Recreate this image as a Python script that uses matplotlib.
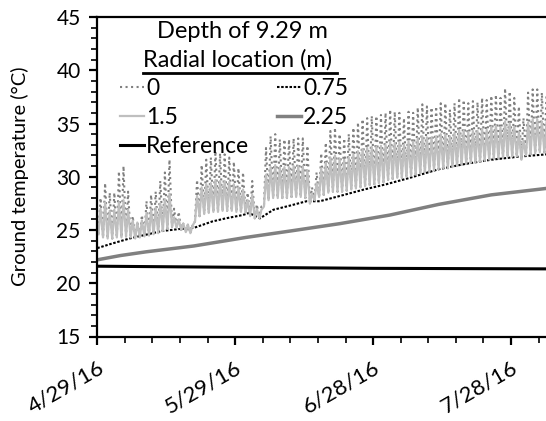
import datetime as dt

import matplotlib
matplotlib.use('Agg')
import matplotlib.dates as mdates
import matplotlib.pyplot as plt
from matplotlib.lines import Line2D
from matplotlib.ticker import MultipleLocator
import numpy as np

# Ground temperature at a depth of 9.29 m, 4/29/16 onwards
start = dt.datetime(2016, 4, 29)
n_days = 98

# Daily peaks of the 0 m series (dotted grey)
peak_0 = [28.0, 29.4, 28.5, 28.5, 30.5, 31.0, 28.6, 26.3, 25.8, 26.4,
          27.7, 28.3, 28.6, 29.6, 30.4, 31.6, 27.0, 26.7, 25.6, 25.5,
          25.4, 29.7, 31.1, 31.6, 31.8, 32.4, 32.2, 32.1, 31.8, 31.4,
          30.8, 30.4, 28.5, 29.6, 27.4, 27.2, 32.7, 33.8, 34.0, 33.5,
          33.5, 33.5, 33.6, 33.6, 33.6, 32.9, 29.0, 30.4, 32.2, 33.2,
          34.3, 34.6, 34.0, 33.6, 34.0, 34.6, 35.1, 35.4, 35.5, 35.7,
          35.7, 35.8, 36.0, 36.3, 36.1, 36.0, 35.5, 36.1, 36.0, 36.5,
          36.8, 36.6, 36.5, 36.6, 36.9, 36.9, 36.3, 36.9, 37.4, 37.2,
          36.9, 37.1, 37.0, 37.4, 37.2, 37.6, 37.7, 37.4, 38.3, 38.0,
          37.4, 36.6, 35.5, 37.9, 38.2, 38.2, 37.9, 37.6]

# Daily peaks of the 1.5 m series (light grey)
peak_15 = [27.0, 27.6, 26.8, 26.9, 27.6, 27.8, 26.9, 25.9, 25.7, 25.9,
           26.6, 26.9, 27.1, 27.5, 27.9, 28.4, 26.2, 26.0, 25.6, 25.5,
           25.4, 28.2, 29.0, 29.3, 29.4, 29.7, 29.6, 29.6, 29.5, 29.3,
           29.0, 28.8, 27.8, 28.3, 27.0, 26.9, 30.2, 30.9, 31.1, 30.9,
           30.9, 30.9, 31.0, 31.0, 31.0, 30.6, 28.4, 29.4, 30.8, 31.3,
           31.8, 32.0, 31.7, 31.6, 31.8, 32.1, 32.4, 32.6, 32.7, 32.8,
           32.8, 32.9, 33.0, 33.3, 33.2, 33.2, 33.0, 33.3, 33.3, 33.6,
           33.8, 33.7, 33.7, 33.8, 34.0, 34.0, 33.8, 34.1, 34.4, 34.3,
           34.2, 34.3, 34.3, 34.5, 34.4, 34.7, 34.8, 34.6, 35.2, 35.0,
           34.7, 34.2, 33.4, 35.1, 35.4, 35.4, 35.2, 35.1]

# Nightly lows, shared by the 0 m and 1.5 m series
lows = [24.6, 24.3, 24.2, 24.2, 24.3, 24.3, 24.4, 24.3, 24.2, 24.3,
        24.4, 24.5, 24.6, 24.7, 24.9, 25.1, 25.3, 25.2, 25.0, 24.8,
        24.7, 25.8, 26.3, 26.5, 26.6, 26.7, 26.7, 26.8, 26.8, 26.8,
        26.7, 26.7, 26.6, 26.3, 26.1, 26.1, 27.2, 27.8, 28.0, 28.0,
        28.0, 28.0, 28.1, 28.1, 28.1, 28.0, 27.5, 27.8, 28.1, 28.3,
        28.5, 28.6, 28.6, 28.6, 28.7, 28.8, 28.9, 29.0, 29.1, 29.2,
        29.3, 29.4, 29.5, 29.7, 29.8, 29.9, 29.9, 30.0, 30.1, 30.2,
        30.3, 30.4, 30.5, 30.6, 30.7, 30.8, 30.8, 30.9, 31.0, 31.1,
        31.2, 31.3, 31.3, 31.4, 31.5, 31.6, 31.7, 31.7, 31.8, 31.9,
        31.9, 31.9, 31.6, 32.0, 32.1, 32.2, 32.3, 32.3]

# Smooth series, (day, temperature)
days_075 = [0, 3, 7, 10, 14, 18, 21, 25, 28, 31.6, 33, 35.4, 38.3, 42,
            45.5, 48.4, 52.8, 58, 62.9, 68, 74.2, 80, 85.7, 92, 97.6]
temp_075 = [23.3, 23.7, 24.2, 24.5, 24.9, 25.1, 25.2, 25.8, 26.1, 26.4,
            26.6, 26.1, 26.9, 27.3, 27.7, 27.7, 28.2, 28.8, 29.3, 29.9,
            30.7, 31.2, 31.6, 31.9, 32.1]

days_225 = [0, 5, 10.6, 21, 32.3, 41.9, 52.8, 63.6, 74.2, 85.7, 97.6]
temp_225 = [22.2, 22.6, 22.95, 23.5, 24.3, 24.9, 25.6, 26.4, 27.4, 28.3, 28.9]

days_ref = [0, 30, 60, 97.6]
temp_ref = [21.6, 21.5, 21.4, 21.35]


def to_dates(days):
    return [start + dt.timedelta(days=float(d)) for d in days]


# low at night, peak in the afternoon
cycle_days = np.ravel([[d + 0.25, d + 0.7] for d in range(n_days)])
cycle_0 = np.ravel(list(zip(lows, peak_0)))
cycle_15 = np.ravel(list(zip(lows, peak_15)))

plt.rcParams['font.family'] = ['Lato', 'DejaVu Sans']
fig = plt.figure(figsize=(5.46, 4.21), dpi=100)
ax = fig.add_axes([97.3 / 546, 1 - 336.5 / 421, (546 - 97.3) / 546, (336.5 - 17) / 421])

l0, = ax.plot(to_dates(cycle_days), cycle_0, ls=':', lw=1.5, color='#808080')
l075, = ax.plot(to_dates(days_075), temp_075, lw=1.5, color='black', dashes=(1.2, 0.8))
l15, = ax.plot(to_dates(cycle_days), cycle_15, lw=1.6, color='#BFBFBF')
l225, = ax.plot(to_dates(days_225), temp_225, lw=2.5, color='#808080')
lref, = ax.plot(to_dates(days_ref), temp_ref, lw=2.2, color='black')

ax.set_xlim(mdates.date2num(start), mdates.date2num(start) + 97.6)
ax.set_ylim(15, 45)
ax.xaxis.set_major_locator(MultipleLocator(30))
ax.xaxis.set_minor_locator(MultipleLocator(6))
ax.xaxis.set_major_formatter(mdates.DateFormatter('%-m/%-d/%y'))
ax.yaxis.set_major_locator(MultipleLocator(5))
ax.yaxis.set_minor_locator(MultipleLocator(1))

ax.spines['right'].set_visible(False)
for side in ['left', 'bottom', 'top']:
    ax.spines[side].set_linewidth(1.6)
ax.tick_params(which='major', direction='out', length=6, width=1.6, labelsize=15)
ax.tick_params(which='minor', direction='out', length=4, width=1.2)
ax.tick_params(axis='y', pad=6)
ax.tick_params(axis='x', pad=9, labelsize=16)
for lbl in ax.get_xticklabels():
    lbl.set_rotation(30)
    lbl.set_ha('right')
    lbl.set_rotation_mode('anchor')

ax.set_ylabel('Ground temperature (°C)', fontsize=14.5, labelpad=20)

# legend block
fig.text(157 / 546, 1 - 32 / 421, 'Depth of 9.29 m', ha='left', va='center', fontsize=17)
fig.text(143 / 546, 1 - 60 / 421, 'Radial location (m)', ha='left', va='center', fontsize=17)
fig.add_artist(Line2D([143 / 546, 337 / 546], [1 - 73 / 421, 1 - 73 / 421],
                      transform=fig.transFigure, color='black', lw=2))
fig.legend([l0, l15, lref, l075, l225], ['0', '1.5', 'Reference', '0.75', '2.25'],
           ncol=2, frameon=False, fontsize=16.5, loc='upper left',
           bbox_to_anchor=(120 / 546, 1 - 78 / 421), borderpad=0, borderaxespad=0,
           handlelength=1.05, handletextpad=0.1, labelspacing=0.35, columnspacing=1.2)

fig.savefig('out.png', dpi=100)
